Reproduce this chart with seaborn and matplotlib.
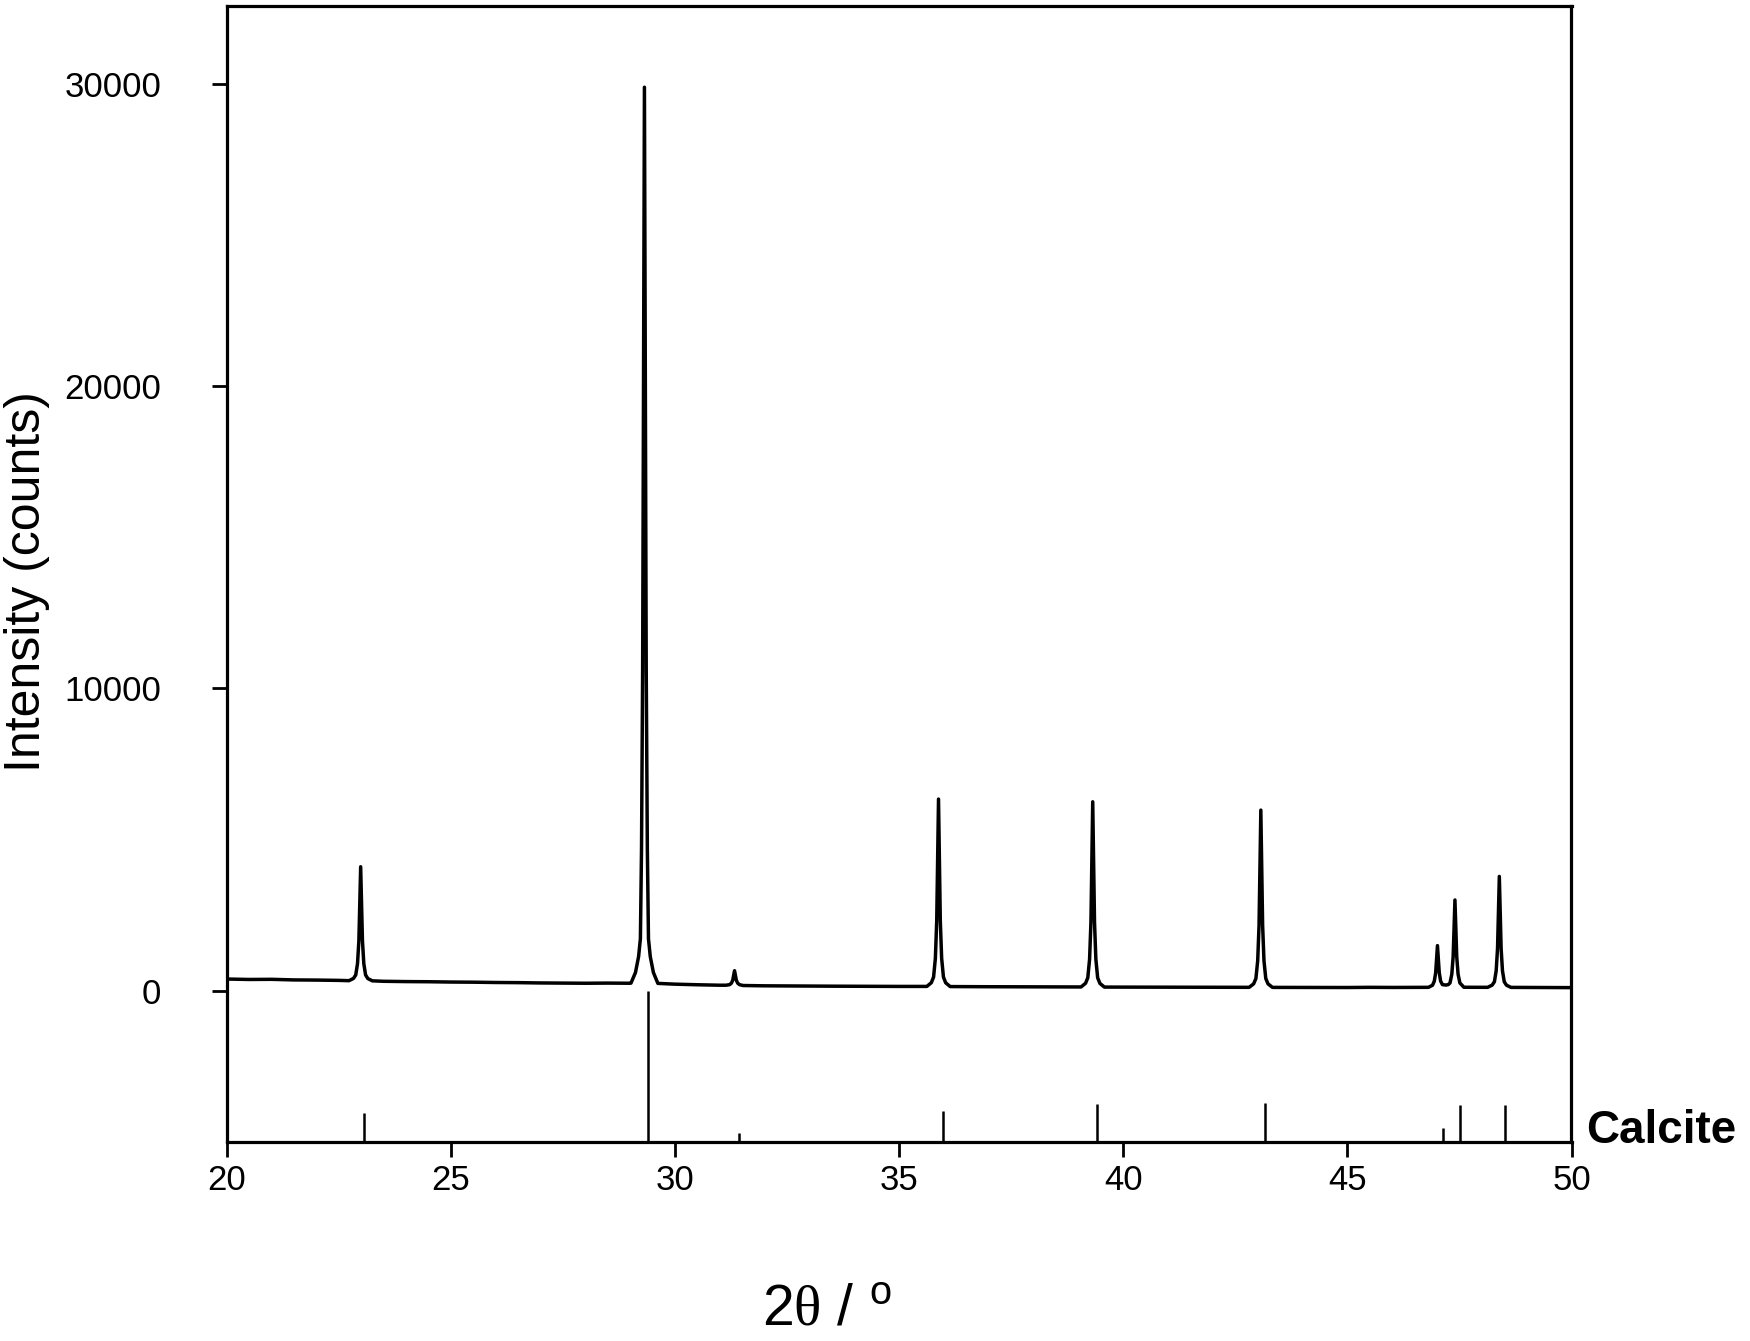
import pandas as pd
import matplotlib
matplotlib.use('Agg')
import matplotlib.pyplot as plt
import seaborn as sns

# XRD pattern (2theta in degrees, intensity in counts)
two_theta = [
    20.0, 20.5, 21.0, 21.5, 22.0, 22.5,
    22.73, 22.83, 22.88, 22.92, 22.95, 22.972, 22.99, 23.008, 23.03, 23.06, 23.10, 23.15, 23.25,
    23.5, 24.0, 24.5, 25.0, 25.5, 26.0, 26.5, 27.0, 27.5, 28.0, 28.5, 29.0,
    29.02, 29.12, 29.19, 29.23, 29.255, 29.28, 29.302, 29.32, 29.338, 29.36, 29.385,
    29.41, 29.45, 29.52, 29.62,
    30.0, 30.5, 31.0,
    31.14, 31.22, 31.26, 31.29, 31.312, 31.33, 31.348, 31.37, 31.40, 31.44, 31.52,
    32.0, 32.5, 33.0, 33.5, 34.0, 34.5, 35.0, 35.5,
    35.62, 35.72, 35.77, 35.81, 35.84, 35.862, 35.88, 35.898, 35.92, 35.95, 35.99, 36.04, 36.14,
    36.5, 37.0, 37.5, 38.0, 38.5, 39.0,
    39.06, 39.16, 39.21, 39.25, 39.28, 39.302, 39.32, 39.338, 39.36, 39.39, 39.43, 39.48, 39.58,
    40.0, 40.5, 41.0, 41.5, 42.0, 42.5,
    42.81, 42.91, 42.96, 43.00, 43.03, 43.052, 43.07, 43.088, 43.11, 43.14, 43.18, 43.23, 43.33,
    43.5, 44.0, 44.5, 45.0, 45.5, 46.0, 46.5,
    46.81, 46.90, 46.94, 46.97, 46.992, 47.01, 47.028, 47.05, 47.08, 47.12, 47.20,
    47.25, 47.29, 47.33, 47.36, 47.382, 47.40, 47.418, 47.44, 47.47, 47.51, 47.60,
    48.0,
    48.13, 48.23, 48.28, 48.32, 48.35, 48.372, 48.39, 48.408, 48.43, 48.46, 48.50, 48.55, 48.65,
    49.0, 49.5, 50.0,
]
intensity = [
    385, 370, 375, 355, 350, 340,
    330, 405, 519, 896, 1650, 2970, 4100, 2970, 1650, 896, 519, 400, 325,
    310, 300, 295, 285, 280, 270, 265, 255, 250, 245, 250, 245,
    250, 600, 1130, 1720, 4690, 10620, 21000, 29900, 21000, 10620, 4690,
    1720, 1130, 600, 240,
    215, 195, 180,
    180, 199, 248, 345, 515, 660, 515, 345, 248, 199, 170,
    160, 155, 150, 148, 145, 142, 140, 140,
    140, 264, 450, 1070, 2310, 4480, 6340, 4480, 2310, 1070, 450, 260, 135,
    132, 130, 128, 125, 124, 122,
    122, 245, 427, 1040, 2265, 4410, 6250, 4410, 2265, 1040, 427, 240, 118,
    117, 115, 114, 113, 112, 111,
    110, 227, 403, 990, 2163, 4215, 5975, 4215, 2163, 990, 403, 225, 108,
    108, 106, 105, 104, 110, 106, 108,
    110, 179, 317, 593, 1076, 1490, 1076, 593, 320, 200, 185,
    200, 255, 544, 1122, 2133, 3000, 2133, 1122, 544, 255, 112,
    112,
    110, 183, 294, 660, 1395, 2680, 3780, 2680, 1395, 660, 294, 180, 108,
    105, 104, 100,
]

# Calcite reference lines (2theta, relative intensity in %)
calcite_pos = [23.06, 29.41, 31.44, 35.98, 39.42, 43.17, 47.13, 47.51, 48.52]
calcite_rel = [18.8, 100.0, 5.8, 20.6, 25.0, 25.6, 9.3, 24.5, 24.5]
stick_base = -5000
stick_span = 5000

x_ticks = [20, 25, 30, 35, 40, 45, 50]
y_ticks = [0, 10000, 20000, 30000]

sns.set_style('ticks')
plt.rcParams['font.family'] = ['Liberation Sans', 'DejaVu Sans']
plt.rcParams['mathtext.fontset'] = 'custom'
plt.rcParams['mathtext.rm'] = 'Liberation Serif'
plt.rcParams['mathtext.sf'] = 'Liberation Sans'
for key in ['text.color', 'axes.labelcolor', 'xtick.color', 'ytick.color', 'axes.edgecolor']:
    plt.rcParams[key] = 'black'

df = pd.DataFrame({'two_theta': two_theta, 'intensity': intensity})

fig = plt.figure(figsize=(17.5, 13.41), dpi=100)
ax = fig.add_axes([0.1295, 0.1486, 0.7685, 0.8472])

sns.lineplot(data=df, x='two_theta', y='intensity', color='black', linewidth=2.5,
             ax=ax, sort=False)

sticks = pd.DataFrame({'pos': calcite_pos, 'rel': calcite_rel})
sticks['top'] = stick_base + sticks['rel'] / 100 * stick_span
ax.vlines(sticks['pos'], stick_base, sticks['top'], color='black', linewidth=1.8)

ax.set_xlim(20, 50)
ax.set_ylim(stick_base, 32600)
ax.set_xticks(x_ticks)
ax.set_yticks(y_ticks)
ax.set_xlabel('')
ax.set_ylabel('')
ax.tick_params(axis='both', direction='out', length=11, width=2.0, labelsize=25,
               top=False, right=False)
ax.tick_params(axis='y', pad=36)
ax.tick_params(axis='x', pad=5)
for s in ax.spines.values():
    s.set_linewidth(2.3)
    s.set_visible(True)

ax.set_ylabel('Intensity (counts)', fontsize=36)
ax.yaxis.set_label_coords(-0.131, 0.493)
ax.set_xlabel(r'2$\mathrm{\theta}$ / $^{\mathsf{o}}$', fontsize=41)
ax.xaxis.set_label_coords(0.446, -0.125)

ax.text(1.011, 0.0095, 'Calcite', transform=ax.transAxes, fontsize=33,
        fontweight='bold', va='center', ha='left')

fig.savefig('out.png', dpi=100)
